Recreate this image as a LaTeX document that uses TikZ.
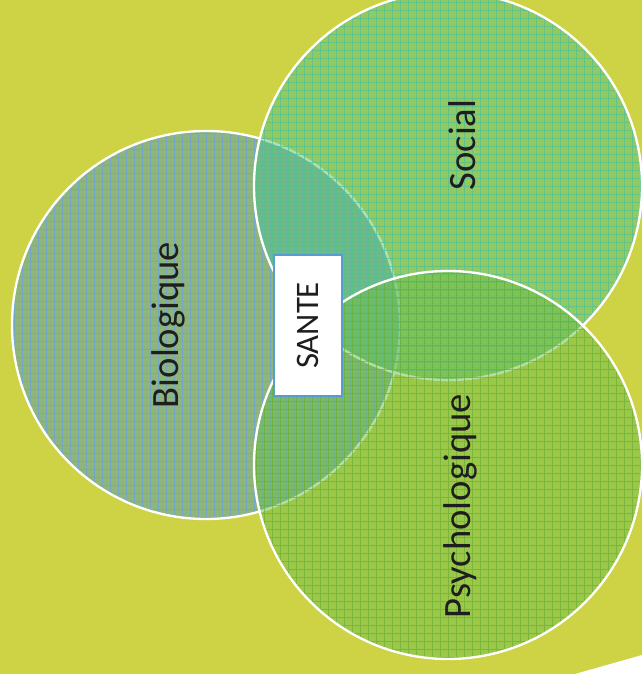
\documentclass[tikz,border=0pt]{standalone}
\usepackage{fontspec}
\setmainfont{Carlito}
\usepackage{tikz}

\definecolor{fond}{HTML}{CDD345}
\definecolor{biofill}{RGB}{80,152,180}
\definecolor{biogrid}{RGB}{105,160,230}
\definecolor{socfill}{RGB}{90,192,125}
\definecolor{socgrid}{RGB}{80,192,150}
\definecolor{psyfill}{RGB}{109,191,79}
\definecolor{psygrid}{RGB}{105,175,55}
\definecolor{cadre}{HTML}{5B9BD5}
\definecolor{encre}{RGB}{30,30,30}

\tikzset{
  sphere/.style 2 args={circle, draw=white, line width=2pt, inner sep=0pt,
    minimum size=11.64cm, fill=#1fill, fill opacity=#2,
    path picture={\draw[#1grid, line width=0.8pt, draw opacity=0.7, step=0.24cm]
      (path picture bounding box.south west) grid (path picture bounding box.north east);}},
  circtext/.style={rotate=90, text=encre, font=\fontsize{33}{40}\selectfont, inner sep=0pt},
  santebox/.style={rectangle, rotate=90, fill=white, draw=cadre, line width=1.7pt,
    minimum width=4.23cm, minimum height=2.04cm, text=encre,
    font=\fontsize{28}{34}\selectfont}
}

\begin{document}
\begin{tikzpicture}[x=0.03cm, y=0.03cm]
  \useasboundingbox (0,0) rectangle (642,674);
  \fill[fond] (0,0) rectangle (642,674);
  \fill[white] (575,0) -- (642,19) -- (642,0) -- cycle;

  % the three circles
  \node[sphere={bio}{0.5}] (bio) at (206,349) {};
  \node[sphere={soc}{0.5}] (soc) at (448,488) {};
  \node[sphere={psy}{0.5}] (psy) at (448,209) {};

  % labels
  \node[circtext] (biotxt) at (168,349) {Biologique};
  \node[circtext] (soctxt) at (462,529) {Social};
  \node[circtext] (psytxt) at (460,168) {Psychologique};

  \node[santebox] (sante) at (308,348.5) {SANTE};
\end{tikzpicture}
\end{document}
